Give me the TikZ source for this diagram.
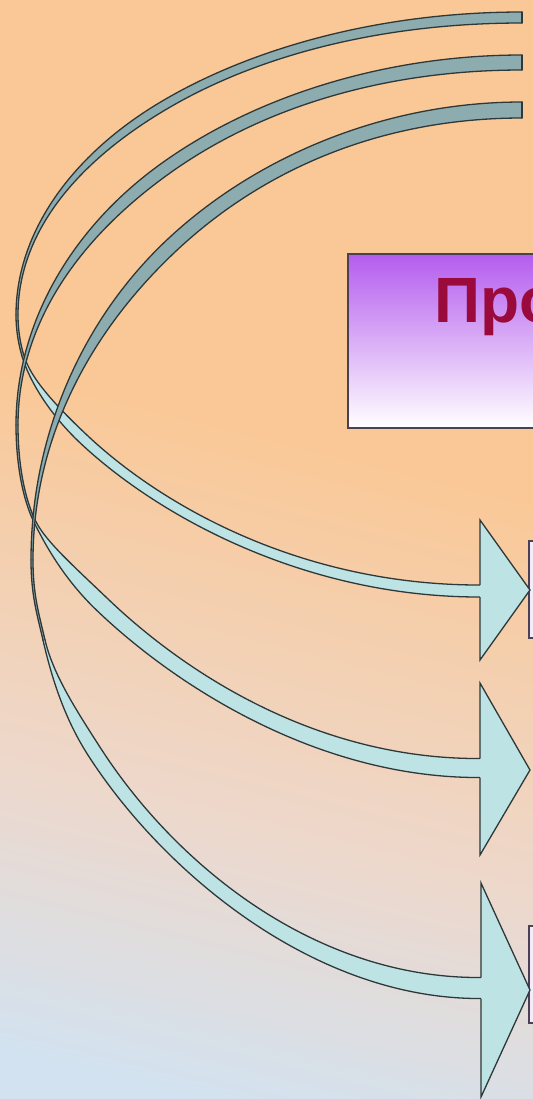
\documentclass[tikz,border=0pt]{standalone}
\usepackage{fontspec}
\setmainfont{Liberation Sans}
\usetikzlibrary{calc}
\definecolor{peach}{HTML}{FAC896}
\definecolor{blush}{HTML}{EDD8CC}
\definecolor{haze}{HTML}{D2E2F0}
\definecolor{backband}{HTML}{8CACB0}
\definecolor{frontband}{HTML}{BEE3E5}
\definecolor{edge}{HTML}{2E3838}
\definecolor{plum}{HTML}{B45CEE}
\definecolor{title}{HTML}{9A0A3C}
\definecolor{boxbd}{HTML}{4A4252}
\pgfdeclareverticalshading{slidebg}{100bp}{color(0bp)=(haze); color(22bp)=(haze);
  color(36bp)=(blush); color(56bp)=(peach); color(100bp)=(peach)}
\tikzset{
  band/.style={draw=edge, line width=0.65pt, line cap=round},
  back/.style={fill=backband},
  front/.style={fill=frontband},
  head/.style={draw=edge, line width=0.65pt, fill=frontband},
  titlebox/.style={rectangle, draw=boxbd, line width=0.75pt, top color=plum,
                   bottom color=white, inner sep=0pt},
  tab/.style={rectangle, draw=boxbd, line width=0.75pt, fill=white!88!plum,
              inner sep=0pt, minimum width=20pt},
}
% one piece of a curved band: fill style, four bezier points, half widths at both ends
\newcommand{\bandpiece}[7]{%
  \fill[#1] ($#2!#6!90:#3$) .. controls ($#3!#6!-90:#2$) and ($#4!#7!90:#5$) .. ($#5!#7!-90:#4$)
    -- ($#5!#7!90:#4$) .. controls ($#4!#7!-90:#5$) and ($#3!#6!90:#2$) .. ($#2!#6!-90:#3$) -- cycle;
  \draw[band] ($#2!#6!90:#3$) .. controls ($#3!#6!-90:#2$) and ($#4!#7!90:#5$) .. ($#5!#7!-90:#4$);
  \draw[band] ($#2!#6!-90:#3$) .. controls ($#3!#6!90:#2$) and ($#4!#7!-90:#5$) .. ($#5!#7!90:#4$);}

\begin{document}
\begin{tikzpicture}[x=0.5pt, y=-0.5pt]
  \useasboundingbox (0,0) rectangle (533,1099);
  \clip (0,0) rectangle (533,1099);
  \shade[shading=slidebg, shading angle=-14] (0,0) rectangle (533,1099);

  % ---- title box ----
  \node[titlebox, anchor=north west, minimum width=200pt, minimum height=87pt] (ttl) at (347,253) {};
  \node[anchor=base west, inner sep=0pt, text=title,
        font=\fontsize{32}{38}\selectfont\bfseries] (ttltext) at (434,322) {Про};

  % ---- boxes at the arrow tips ----
  \node[tab, anchor=north west, minimum height=48.5pt] (tab1) at (528,540) {};
  \node[tab, anchor=north west, minimum height=48.5pt] (tab3) at (528,925) {};

  \coordinate (tip1) at (530,590);
  \coordinate (tip2) at (530,770);
  \coordinate (tip3) at (530,990);

  % ---- arrow 1 ----
  \bandpiece{back}{(522,17.5)}{(382.5,17.5)}{(256.3,50.9)}{(164.9,104.8)}{2.75pt}{2.3pt}
  \bandpiece{back}{(164.9,104.8)}{(73.5,158.6)}{(17,233)}{(17,315)}{2.3pt}{0.5pt}
  \bandpiece{back}{(17,315)}{(17,332)}{(20,346)}{(23,356)}{0.5pt}{0.5pt}
  \bandpiece{front}{(23,356)}{(29.6,378.2)}{(50.9,408.3)}{(84.2,439.6)}{0.5pt}{2.6pt}
  \bandpiece{front}{(84.2,439.6)}{(162,512.5)}{(305.6,591.7)}{(482,591)}{2.6pt}{3pt}
  \draw[band] (522,12) -- (522,23);
  \filldraw[head] (480,585) -- (480,520) -- (tip1) -- (480,660) -- (480,597);

  % ---- arrow 2 ----
  \bandpiece{back}{(522,62.5)}{(382.5,62.5)}{(256.3,103.1)}{(164.9,168.8)}{3.75pt}{3.2pt}
  \bandpiece{back}{(164.9,168.8)}{(73.5,234.4)}{(17,325)}{(17,425)}{3.2pt}{0.5pt}
  \bandpiece{back}{(17,425)}{(17,465)}{(24,500)}{(35,522)}{0.5pt}{0.5pt}
  \bandpiece{front}{(35,522)}{(44.9,541.8)}{(68.2,572)}{(102.3,604.6)}{0.5pt}{4pt}
  \bandpiece{front}{(102.3,604.6)}{(181.7,680.6)}{(319.6,769.4)}{(482,768)}{4pt}{4.75pt}
  \draw[band] (522,55) -- (522,70);
  \filldraw[head] (480,758.5) -- (480,683) -- (tip2) -- (480,855) -- (480,777.5);

  % ---- arrow 3 ----
  \bandpiece{back}{(522,110)}{(386.5,110)}{(264,160.4)}{(175.4,241.8)}{4pt}{3.6pt}
  \bandpiece{back}{(175.4,241.8)}{(86.8,323.3)}{(32,435.8)}{(32,560)}{3.6pt}{0.5pt}
  \bandpiece{back}{(32,560)}{(32,595)}{(38,614)}{(44,640)}{0.5pt}{0.5pt}
  \bandpiece{front}{(44,640)}{(51.8,673.8)}{(69.1,712.5)}{(94.3,751.6)}{0.5pt}{3.6pt}
  \bandpiece{front}{(94.3,751.6)}{(169.8,868.9)}{(315.5,989.5)}{(482,988)}{3.6pt}{5.25pt}
  \draw[band] (522,102) -- (522,118);
  \filldraw[head] (481,977.5) -- (481,883) -- (tip3) -- (481,1097) -- (481,998.5);
\end{tikzpicture}
\end{document}
